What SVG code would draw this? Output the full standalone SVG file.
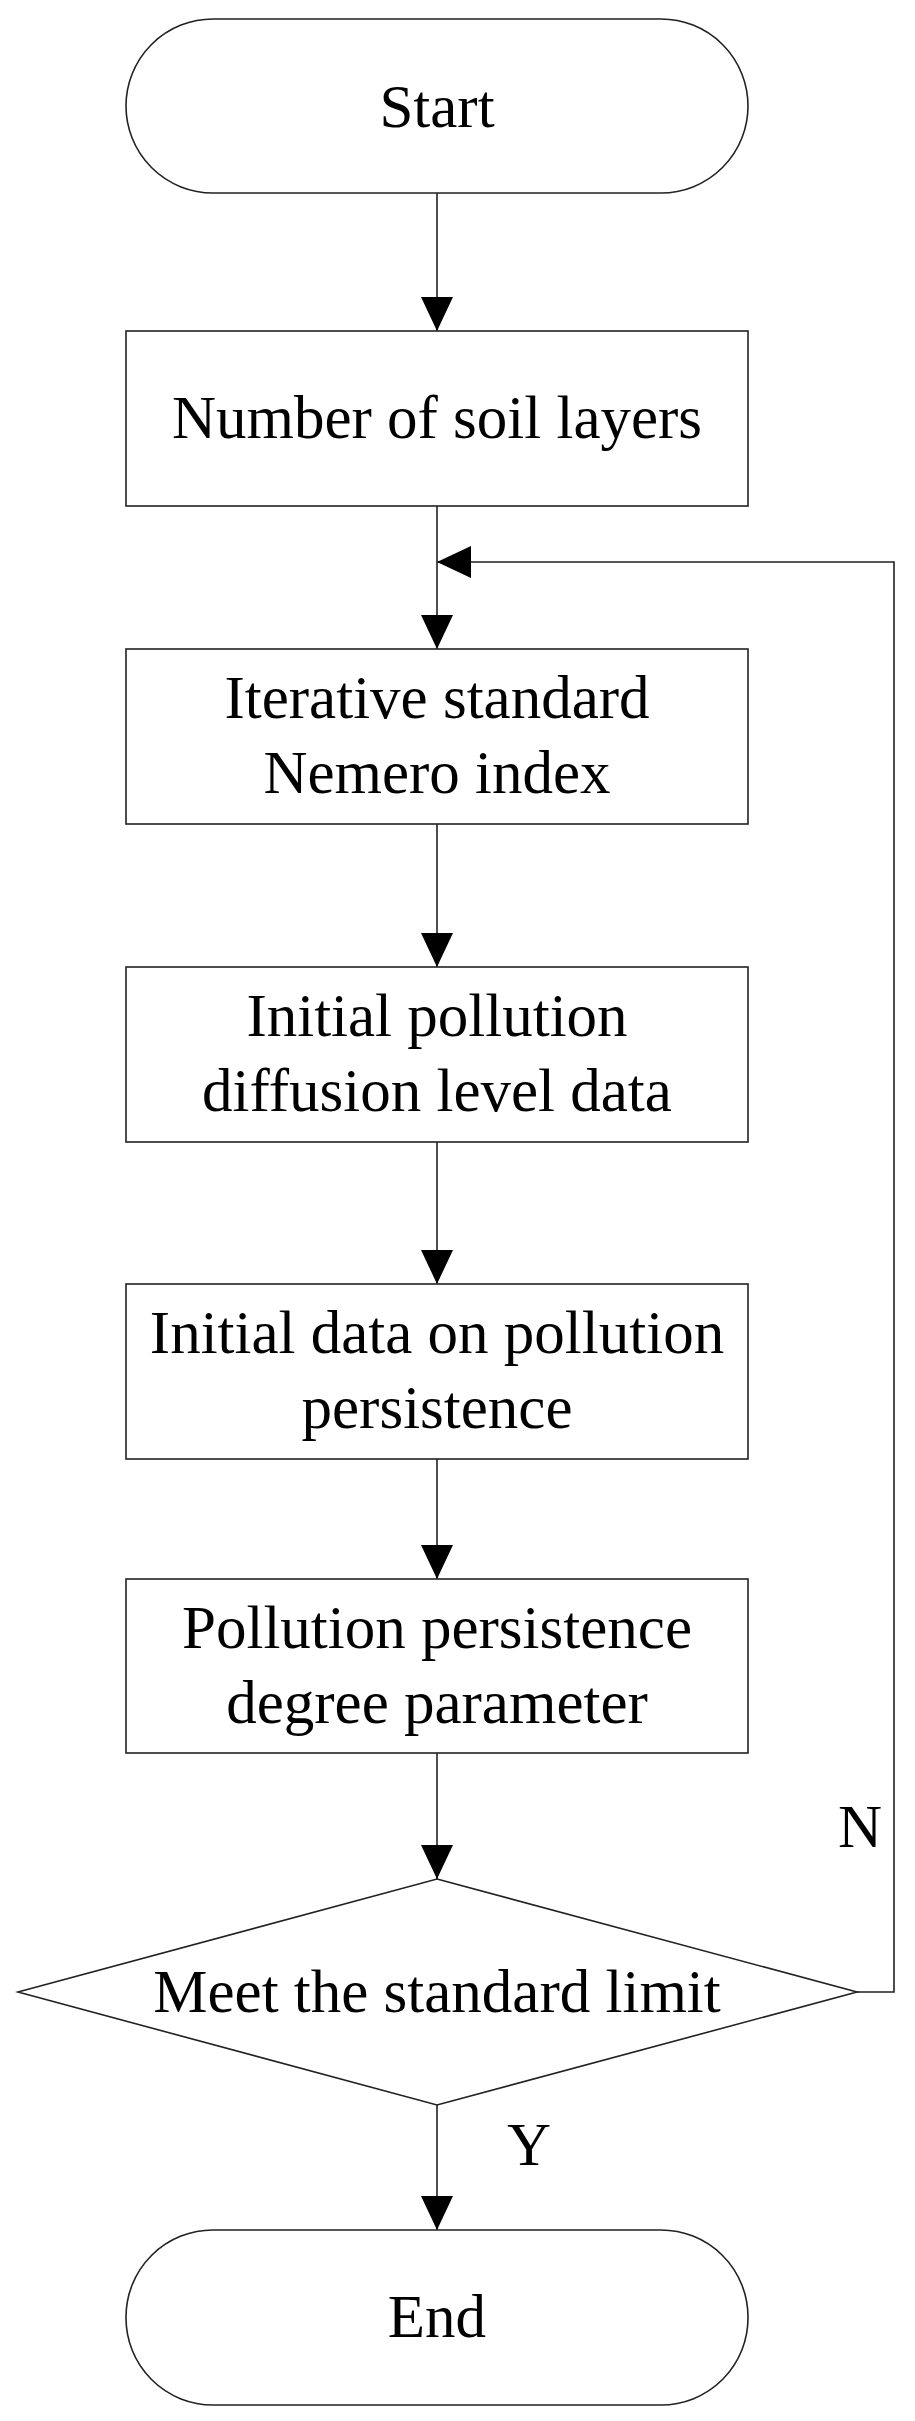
<svg xmlns="http://www.w3.org/2000/svg" width="915" height="2421" viewBox="0 0 915 2421">
<style>
.shape{fill:#fff;stroke:#222;stroke-width:1.6}
.lbl{font-family:"Liberation Serif","Times New Roman",serif;font-size:61px;fill:#000;text-anchor:middle}
.yn{font-family:"Liberation Serif","Times New Roman",serif;font-size:61px;fill:#000}
.conn{fill:none;stroke:#222;stroke-width:1.6}
</style>
<defs>
<marker id="arr" viewBox="0 0 34 32" refX="34" refY="16" markerWidth="34" markerHeight="32" markerUnits="userSpaceOnUse" orient="auto">
<path d="M0,0 L34,16 L0,32 z" fill="#000"/>
</marker>
</defs>
<rect width="915" height="2421" fill="#fff"/>
<g id="connectors">
<line class="conn" x1="437" y1="193" x2="437" y2="331" marker-end="url(#arr)"/>
<line class="conn" x1="437" y1="506" x2="437" y2="649" marker-end="url(#arr)"/>
<line class="conn" x1="437" y1="824" x2="437" y2="967" marker-end="url(#arr)"/>
<line class="conn" x1="437" y1="1142" x2="437" y2="1284" marker-end="url(#arr)"/>
<line class="conn" x1="437" y1="1459" x2="437" y2="1579" marker-end="url(#arr)"/>
<line class="conn" x1="437" y1="1753" x2="437" y2="1879" marker-end="url(#arr)"/>
<line class="conn" x1="437" y1="2105" x2="437" y2="2230" marker-end="url(#arr)"/>
<polyline class="conn" points="857,1992 894,1992 894,562 437,562" marker-end="url(#arr)"/>
<text class="yn" x="838" y="1847">N</text>
<text class="yn" x="507" y="2165">Y</text>
</g>
<g id="start">
<rect class="shape" x="126" y="19" width="622" height="174" rx="87" ry="87"/>
<text class="lbl" x="437" y="127">Start</text>
</g>
<g id="soil-layers">
<rect class="shape" x="126" y="331" width="622" height="175"/>
<text class="lbl" x="437" y="438">Number of soil layers</text>
</g>
<g id="nemero">
<rect class="shape" x="126" y="649" width="622" height="175"/>
<text class="lbl" x="437" y="718">Iterative standard</text>
<text class="lbl" x="437" y="793">Nemero index</text>
</g>
<g id="diffusion">
<rect class="shape" x="126" y="967" width="622" height="175"/>
<text class="lbl" x="437" y="1036">Initial pollution</text>
<text class="lbl" x="437" y="1111">diffusion level data</text>
</g>
<g id="persistence-data">
<rect class="shape" x="126" y="1284" width="622" height="175"/>
<text class="lbl" x="437" y="1353">Initial data on pollution</text>
<text class="lbl" x="437" y="1428">persistence</text>
</g>
<g id="persistence-param">
<rect class="shape" x="126" y="1579" width="622" height="174"/>
<text class="lbl" x="437" y="1648">Pollution persistence</text>
<text class="lbl" x="437" y="1723">degree parameter</text>
</g>
<g id="decision">
<polygon class="shape" points="437,1879 857,1992 437,2105 18,1992"/>
<text class="lbl" x="437" y="2012">Meet the standard limit</text>
</g>
<g id="end">
<rect class="shape" x="126" y="2230" width="622" height="175" rx="87" ry="87"/>
<text class="lbl" x="437" y="2337">End</text>
</g>
</svg>
